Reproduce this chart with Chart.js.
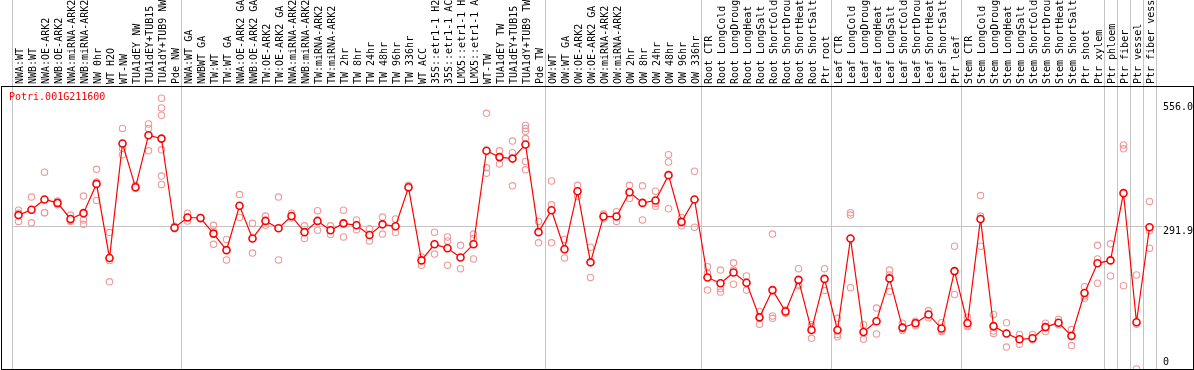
<!DOCTYPE html>
<html>
<head>
<meta charset="utf-8">
<script src="https://cdn.jsdelivr.net/npm/chart.js@4"></script>
<style>
  html, body { margin: 0; padding: 0; background: #fff; }
  canvas { display: block; }
</style>
</head>
<body>
<canvas id="myChart" width="1194" height="370"></canvas>
<script>
const geneId = 'Potri.001G211600';

const categories = [
  'NWA:WT', 'NWB:WT', 'NWA:OE-ARK2', 'NWB:OE-ARK2', 'NWA:miRNA-ARK2', 'NWB:miRNA-ARK2',
  'NW 0hr', 'WT H2O', 'WT-NW', 'TUA1dEY NW', 'TUA1dEY+TUB15 NW', 'TUA1dY+TUB9 NW', 'Pde NW',
  'NWA:WT GA', 'NWBWT GA', 'TW:WT', 'TW:WT GA', 'NWA:OE-ARK2 GA', 'NWB:OE-ARK2 GA',
  'TW:OE-ARK2', 'TW:OE-ARK2 GA', 'NWA:miRNA-ARK2', 'NWB:miRNA-ARK2', 'TW:miRNA-ARK2', 'TW:miRNA-ARK2',
  'TW 2hr', 'TW 8hr', 'TW 24hr', 'TW 48hr', 'TW 96hr', 'TW 336hr', 'WT ACC',
  '35S::etr1-1 H2O', '35S::etr1-1 ACC', 'LMX5::etr1-1 H2O', 'LMX5::etr1-1 ACC',
  'WT-TW', 'TUA1dEY TW', 'TUA1dEY+TUB15 TW', 'TUA1dY+TUB9 TW', 'Pde TW',
  'OW:WT', 'OW:WT GA', 'OW:OE-ARK2', 'OW:OE-ARK2 GA', 'OW:miRNA-ARK2', 'OW:miRNA-ARK2',
  'OW 2hr', 'OW 8hr', 'OW 24hr', 'OW 48hr', 'OW 96hr', 'OW 336hr',
  'Root CTR', 'Root LongCold', 'Root LongDrought', 'Root LongHeat', 'Root LongSalt',
  'Root ShortCold', 'Root ShortDrought', 'Root ShortHeat', 'Root ShortSalt', 'Ptr root',
  'Leaf CTR', 'Leaf LongCold', 'Leaf LongDrought', 'Leaf LongHeat', 'Leaf LongSalt',
  'Leaf ShortCold', 'Leaf ShortDrought', 'Leaf ShortHeat', 'Leaf ShortSalt', 'Ptr leaf',
  'Stem CTR', 'Stem LongCold', 'Stem LongDrought', 'Stem LongHeat', 'Stem LongSalt',
  'Stem ShortCold', 'Stem ShortDrought', 'Stem ShortHeat', 'Stem ShortSalt', 'Ptr shoot', 'Ptr xylem',
  'Ptr phloem', 'Ptr fiber', 'Ptr vessel', 'Ptr fiber vessel'
];

// first category index of each sample group (last entry = end)
const groupStarts = [0, 13, 41, 53, 63, 73, 84, 85, 86, 87, 88];

const means = [
  316, 327, 348, 341, 308, 320, 380, 228, 463, 373, 480, 473, 290,
  311, 310, 278, 244, 335, 268, 304, 289, 314, 281, 304, 285, 299, 295, 275, 297, 293,
  373, 223, 256, 248, 229, 256, 448, 435, 432, 461, 281,
  326, 246, 365, 219, 313, 313, 363, 341, 346, 398, 302, 348,
  188, 176, 198, 177, 106, 162, 118, 183, 80, 185,
  80, 268, 76, 98, 186, 85, 94, 112, 83, 201,
  94, 308, 88, 73, 61, 63, 86, 95, 68, 156, 217,
  223, 361, 96, 291
];

const replicates = [
  [326, 320, 303], [353, 327, 300], [404, 321, 321], [345, 340, 337], [316, 303, 305],
  [355, 306, 297], [410, 384, 346], [280, 223, 179], [494, 453, 440], [377, 371, 372],
  [503, 494, 448], [556, 536, 521, 450, 396, 379], [293, 288, 290],
  [320, 304, 311], [311, 310, 308], [295, 283, 256], [266, 244, 224], [358, 335, 311],
  [299, 268, 238], [314, 304, 295], [353, 289, 224], [320, 312, 310], [294, 281, 268],
  [325, 304, 285], [294, 285, 276], [326, 299, 271], [306, 295, 286], [288, 275, 263],
  [312, 297, 277], [308, 293, 280], [377, 373, 371], [230, 223, 213], [281, 256, 236],
  [271, 263, 213], [254, 229, 206], [277, 268, 226], [525, 413, 402], [448, 435, 421],
  [468, 444, 376], [500, 494, 488, 473, 426, 409], [303, 281, 259],
  [386, 337, 259], [266, 246, 228], [377, 365, 354], [250, 219, 188], [318, 313, 309],
  [323, 313, 303], [377, 363, 350], [376, 341, 306], [365, 340, 334], [440, 425, 329],
  [311, 302, 294], [406, 348, 291],
  [210, 197, 162], [203, 165, 158], [218, 203, 174], [191, 177, 162], [118, 106, 92],
  [277, 109, 104], [121, 118, 114], [206, 173, 171], [91, 87, 63], [206, 185, 161],
  [104, 71, 66], [321, 316, 167], [91, 76, 61], [125, 98, 72], [203, 193, 159],
  [94, 82, 79], [98, 96, 89], [120, 112, 105], [95, 79, 77], [252, 201, 153],
  [106, 89, 87], [356, 314, 252], [112, 78, 73], [95, 73, 45], [71, 61, 51],
  [71, 61, 60], [94, 86, 77], [102, 95, 91], [81, 68, 48], [169, 150, 145], [254, 226, 176],
  [257, 223, 191], [460, 452, 171], [193, 92, 0], [344, 284, 248]
];

const yTicks = [0, 291.9, 556];

const GRID = '#c4c4c4';
const NONE = 'rgba(0,0,0,0)';
const FONT = 'DejaVu Sans Mono';

// x is the category index (parsing is off for this dataset, labels repeat)
const repPoints = replicates.flatMap((vals, i) => vals.map(v => ({ x: i, y: v })));

const frame = {
  id: 'frame',
  afterDraw(chart) {
    const { ctx, chartArea } = chart;
    ctx.save();
    ctx.strokeStyle = '#000';
    ctx.lineWidth = 1;
    ctx.strokeRect(1.5, chartArea.top + 0.5, chart.width - 2, chartArea.bottom - chartArea.top);
    ctx.fillStyle = '#ff0000';
    ctx.font = '10px "' + FONT + '"';
    ctx.textBaseline = 'middle';
    ctx.fillText(geneId, chartArea.left - 3, chartArea.top + 11);
    ctx.restore();
  }
};

const config = {
  type: 'line',
  data: {
    labels: categories,
    datasets: [
      {
        label: 'mean',
        data: means,
        borderColor: '#ff0000',
        borderWidth: 1.2,
        tension: 0,
        pointRadius: 3.5,
        pointBorderWidth: 1.6,
        pointBorderColor: '#ff0000',
        pointBackgroundColor: '#ffffff'
      },
      {
        label: 'replicates',
        data: repPoints,
        parsing: false,
        showLine: false,
        pointRadius: 3.2,
        pointBorderWidth: 1.1,
        pointBorderColor: '#ef9a9a',
        pointBackgroundColor: NONE
      }
    ]
  },
  options: {
    responsive: false,
    animation: false,
    devicePixelRatio: 1,
    layout: { autoPadding: false, padding: { left: 12, right: 0, top: 0, bottom: 1 } },
    plugins: { legend: { display: false }, tooltip: { enabled: false }, title: { display: false } },
    events: [],
    scales: {
      x: {
        type: 'category',
        position: 'top',
        offset: true,
        grid: {
          offset: true,
          tickLength: 86,
          lineWidth: 1,
          color: ctx => {
            const i = ctx.type === 'tick' ? ctx.index : categories.length;
            return groupStarts.includes(i) ? GRID : NONE;
          }
        },
        border: { display: false },
        ticks: {
          autoSkip: false,
          minRotation: 90,
          maxRotation: 90,
          padding: -84,
          labelOffset: 14,
          color: '#000',
          font: { family: FONT, size: 10 }
        },
        afterFit: s => {
          s.height = 86;
          s.paddingLeft = 0;
          s.paddingRight = 0;
        }
      },
      y: {
        position: 'right',
        min: 0,
        max: 581,
        afterBuildTicks: s => { s.ticks = yTicks.map(v => ({ value: v })); },
        grid: {
          tickLength: 6,
          color: ctx => (ctx.tick && ctx.tick.value === 291.9 ? GRID : NONE)
        },
        border: { display: false },
        ticks: {
          autoSkip: false,
          padding: 1,
          labelOffset: 5,
          color: '#000',
          font: { family: FONT, size: 10, lineHeight: 0.8 },
          callback: v => {
            const txt = v === 0 ? '0' : v.toFixed(1);
            if (v === 0) return [txt, '', '', ''];
            if (v === yTicks[yTicks.length - 1]) return ['', txt];
            return txt;
          }
        },
        afterFit: s => {
          s.width = 38;
          s.paddingTop = 0;
          s.paddingBottom = 0;
        }
      }
    }
  },
  plugins: [frame]
};

var myChart = new Chart(document.getElementById('myChart'), config);
</script>
</body>
</html>
